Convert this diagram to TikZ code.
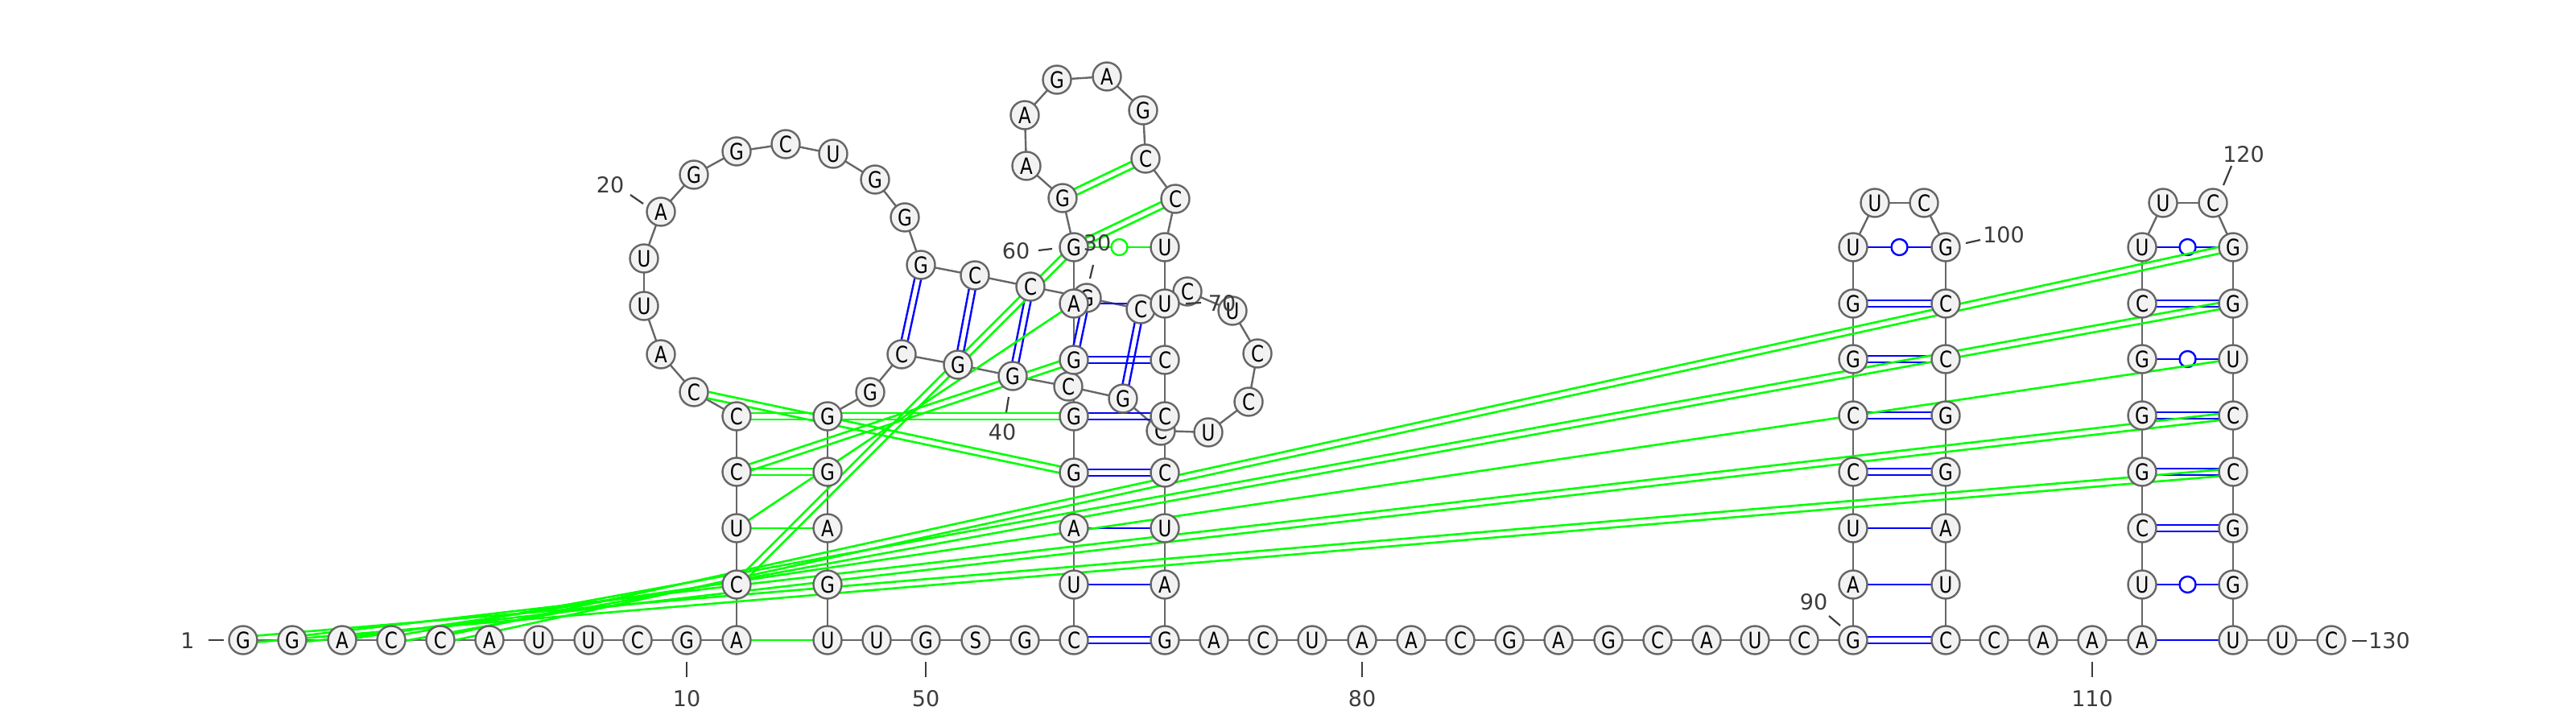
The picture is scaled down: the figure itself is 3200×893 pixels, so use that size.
\documentclass[tikz,border=0pt]{standalone}
\usepackage{fontspec}
\setmainfont{DejaVu Sans}
\newfontfamily\nucfont[FakeStretch=0.82]{DejaVu Sans}
\usetikzlibrary{calc}
\pgfdeclarelayer{bg}
\pgfsetlayers{bg,main}
\definecolor{bbgray}{HTML}{666666}
\definecolor{nfill}{HTML}{F2F2F2}
\definecolor{lblgray}{HTML}{3C3C3C}
\definecolor{pblue}{HTML}{0000FF}
\definecolor{pgreen}{HTML}{00FF00}
\tikzset{
  nt/.style={circle, draw=bbgray, fill=nfill, line width=2.4pt, minimum size=35pt, inner sep=0pt,
    font=\nucfont\fontsize{28}{28}\selectfont},
  bb/.style={draw=bbgray, line width=2.4pt},
  bp/.style={draw=pblue, line width=2.4pt},
  gp/.style={draw=pgreen, line width=2.6pt},
  lbl/.style={text=lblgray, font=\fontsize{27}{27}\selectfont, inner sep=0pt},
  ticks/.style={draw=lblgray, line width=2.2pt},
  wob/.style={circle, inner sep=0pt, minimum size=20pt, fill=white, line width=2.4pt},
}
\newcommand\PairS[3]{\draw[#1] (n#2.center) -- (n#3.center);}
\newcommand\PairD[3]{%
  \draw[#1] ($(n#2.center)!4pt!90:(n#3.center)$) -- ($(n#3.center)!4pt!-90:(n#2.center)$);
  \draw[#1] ($(n#2.center)!4pt!-90:(n#3.center)$) -- ($(n#3.center)!4pt!90:(n#2.center)$);}
\newcommand\PairW[4]{\draw[#1] (n#3.center) -- (n#4.center) node[midway, wob, draw=#2] {};}
\begin{document}
\begin{tikzpicture}[x=1pt,y=-1pt]
\useasboundingbox (0,0) rectangle (3200,893);
\foreach \i/\b/\x/\y in {
1/G/302/795, 2/G/363/795, 3/A/425/795, 4/C/486/795, 5/C/547/795, 6/A/608/795, 7/U/669/795,
8/U/731/795, 9/C/792/795, 10/G/853/795, 11/A/915/795, 12/C/915/726, 13/U/915/656, 14/C/915/586,
15/C/915/517, 16/C/862/487, 17/A/821/440, 18/U/800/380, 19/U/800/321, 20/A/821/263, 21/G/862/217,
22/G/915/188, 23/C/976/179, 24/U/1035/191, 25/G/1087/223, 26/G/1124/270, 27/G/1144/329,
28/C/1211/342, 29/C/1280/356, 30/G/1350/370, 31/C/1417/384, 32/C/1475/362, 33/U/1531/386,
34/C/1562/439, 35/C/1551/499, 36/U/1501/537, 37/C/1442/535, 38/G/1395/495, 39/C/1327/480,
40/G/1258/467, 41/G/1190/453, 42/C/1120/440, 43/G/1081/487, 44/G/1028/517, 45/G/1028/586,
46/A/1028/656, 47/G/1028/726, 48/U/1028/795, 49/U/1089/795, 50/G/1150/795, 51/S/1212/795,
52/G/1273/795, 53/C/1334/795, 54/U/1334/726, 55/A/1334/656, 56/G/1334/587, 57/G/1334/517,
58/G/1334/447, 59/A/1334/377, 60/G/1334/307, 61/G/1320/246, 62/A/1275/206, 63/A/1273/143,
64/G/1313/99, 65/A/1375/95, 66/G/1420/137, 67/C/1423/197, 68/C/1460/247, 69/U/1447/307,
70/U/1447/377, 71/C/1447/447, 72/C/1447/517, 73/C/1447/587, 74/U/1447/656, 75/A/1447/726,
76/G/1447/795, 77/A/1508/795, 78/C/1569/795, 79/U/1630/795, 80/A/1692/795, 81/A/1753/795,
82/C/1814/795, 83/G/1875/795, 84/A/1936/795, 85/G/1998/795, 86/C/2059/795, 87/A/2120/795,
88/U/2180/795, 89/C/2241/795, 90/G/2302/795, 91/A/2302/726, 92/U/2302/656, 93/C/2302/586,
94/C/2302/516, 95/G/2302/446, 96/G/2302/377, 97/U/2302/307, 98/U/2329/252, 99/C/2390/252,
100/G/2417/307, 101/C/2417/377, 102/C/2417/446, 103/G/2417/516, 104/G/2417/586, 105/A/2417/656,
106/U/2417/726, 107/C/2417/795, 108/C/2477/795, 109/A/2538/795, 110/A/2599/795, 111/A/2661/795,
112/U/2661/726, 113/C/2661/656, 114/G/2661/586, 115/G/2661/516, 116/G/2661/446, 117/C/2661/377,
118/U/2661/307, 119/U/2687/252, 120/C/2749/252, 121/G/2774/307, 122/G/2774/377, 123/U/2774/446,
124/C/2774/516, 125/C/2774/586, 126/G/2774/656, 127/G/2774/726, 128/U/2774/795, 129/U/2835/795,
130/C/2896/795}
  \node[nt] (n\i) at (\x,\y) {\b};
\begin{pgfonlayer}{bg}
\foreach \i [evaluate=\i as \j using int(\i+1)] in {1,...,129}
  \draw[bb] (n\i.center) -- (n\j.center);
% blue pairs
\PairD{bp}{27}{42} \PairD{bp}{28}{41} \PairD{bp}{29}{40} \PairD{bp}{30}{39} \PairD{bp}{31}{38}
\PairD{bp}{53}{76} \PairS{bp}{54}{75} \PairS{bp}{55}{74} \PairD{bp}{56}{73} \PairD{bp}{57}{72}
\PairD{bp}{58}{71} \PairS{bp}{59}{70}
\PairD{bp}{90}{107} \PairS{bp}{91}{106} \PairS{bp}{92}{105} \PairD{bp}{93}{104} \PairD{bp}{94}{103}
\PairD{bp}{95}{102} \PairD{bp}{96}{101} \PairW{bp}{pblue}{97}{100}
\PairS{bp}{111}{128} \PairW{bp}{pblue}{112}{127} \PairD{bp}{113}{126} \PairD{bp}{114}{125}
\PairD{bp}{115}{124} \PairW{bp}{pblue}{116}{123} \PairD{bp}{117}{122} \PairW{bp}{pblue}{118}{121}
% green pairs
\PairD{gp}{1}{125} \PairD{gp}{2}{124} \PairS{gp}{3}{123} \PairD{gp}{4}{122} \PairD{gp}{5}{121}
\PairS{gp}{11}{48} \PairS{gp}{13}{46} \PairD{gp}{14}{45} \PairD{gp}{15}{44}
\PairD{gp}{12}{60} \PairS{gp}{13}{59} \PairD{gp}{14}{58} \PairD{gp}{15}{57} \PairD{gp}{16}{56}
\PairD{gp}{60}{68} \PairD{gp}{61}{67} \PairW{gp}{pgreen}{60}{69}
\end{pgfonlayer}
% labels
\node[lbl] (l1) at (233,796) {1};
\coordinate (t1a) at (259,795); \coordinate (t1b) at (278,795);
\node[lbl] (l10) at (853,868) {10};
\coordinate (t10a) at (853,822); \coordinate (t10b) at (853,841);
\node[lbl] (l20) at (758,230) {20};
\coordinate (t20a) at (783,242); \coordinate (t20b) at (799,253);
\node[lbl] (l30) at (1363,302) {30};
\coordinate (t30a) at (1358,329); \coordinate (t30b) at (1354,346);
\node[lbl] (l40) at (1245,537) {40};
\coordinate (t40a) at (1253,493); \coordinate (t40b) at (1250,512);
\node[lbl] (l50) at (1150,868) {50};
\coordinate (t50a) at (1150,822); \coordinate (t50b) at (1150,841);
\node[lbl] (l60) at (1262,312) {60};
\coordinate (t60a) at (1290,311); \coordinate (t60b) at (1307,309);
\node[lbl] (l70) at (1518,377) {70};
\coordinate (t70a) at (1473,377); \coordinate (t70b) at (1492,376);
\node[lbl] (l80) at (1692,868) {80};
\coordinate (t80a) at (1692,822); \coordinate (t80b) at (1692,841);
\node[lbl] (l90) at (2253,748) {90};
\coordinate (t90a) at (2272,765); \coordinate (t90b) at (2286,777);
\node[lbl] (l100) at (2489,292) {100};
\coordinate (t100a) at (2442,302); \coordinate (t100b) at (2460,298);
\node[lbl] (l110) at (2599,868) {110};
\coordinate (t110a) at (2599,822); \coordinate (t110b) at (2599,841);
\node[lbl] (l120) at (2787,192) {120};
\coordinate (t120a) at (2772,206); \coordinate (t120b) at (2762,230);
\node[lbl] (l130) at (2968,796) {130};
\coordinate (t130a) at (2922,796); \coordinate (t130b) at (2940,796);
\foreach \t in {1,10,20,30,40,50,60,70,80,90,100,110,120,130}
  \draw[ticks] (t\t a) -- (t\t b);
\end{tikzpicture}
\end{document}
